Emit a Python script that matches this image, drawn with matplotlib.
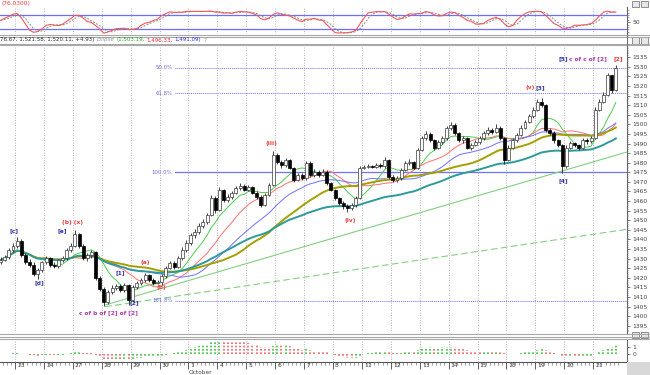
import numpy as np
import pandas as pd
import matplotlib
matplotlib.use("Agg")
import matplotlib.pyplot as plt
import matplotlib.transforms as mtransforms
from matplotlib.lines import Line2D
from matplotlib.patches import Rectangle

W, H = 650, 375

# hourly bars, 7 per day (first day only partly visible, last day 6 bars)
first_open = 1428.0
closes = [
    1429.3, 1430.8, 1434.5, 1436.6,                          # Sep 22
    1439.2, 1431.9, 1428.2, 1426.7, 1422.0, 1424.0, 1428.2,  # Sep 23
    1430.3, 1426.7, 1426.1, 1429.3, 1430.3, 1434.5, 1436.6,  # Sep 24
    1442.8, 1436.6, 1430.3, 1431.9, 1433.5, 1419.9, 1414.1,  # Sep 27
    1407.4, 1412.6, 1414.7, 1415.7, 1413.6, 1416.2, 1408.4,  # Sep 28
    1415.2, 1417.3, 1418.8, 1421.4, 1418.8, 1417.3, 1417.8,  # Sep 29
    1420.9, 1425.1, 1427.7, 1425.6, 1430.3, 1434.5, 1438.1,  # Sep 30
    1442.3, 1443.9, 1447.0, 1449.1, 1452.7, 1461.6, 1455.3,  # Oct 1
    1465.8, 1460.6, 1462.1, 1464.2, 1466.8, 1467.9, 1465.8,  # Oct 4
    1467.3, 1464.2, 1462.1, 1457.9, 1463.2, 1468.4, 1484.0,  # Oct 5
    1480.4, 1478.8, 1481.4, 1477.2, 1471.0, 1473.6, 1472.0,  # Oct 6
    1479.9, 1473.6, 1475.2, 1473.6, 1475.2, 1469.4, 1465.8,  # Oct 7
    1461.6, 1459.0, 1457.4, 1456.4, 1457.9, 1461.6, 1477.2,  # Oct 8
    1477.8, 1478.3, 1477.8, 1478.8, 1478.3, 1481.4, 1472.5,  # Oct 11
    1471.0, 1472.0, 1476.2, 1479.9, 1480.4, 1477.2, 1486.6,  # Oct 12
    1492.9, 1495.0, 1491.8, 1487.7, 1490.8, 1492.9, 1498.1,  # Oct 13
    1499.7, 1495.5, 1491.8, 1492.9, 1487.7, 1489.2, 1490.8,  # Oct 14
    1492.9, 1495.5, 1497.1, 1496.0, 1498.1, 1492.9, 1481.4,  # Oct 15
    1487.7, 1491.8, 1494.5, 1498.1, 1501.2, 1504.4, 1507.5,  # Oct 18
    1511.7, 1510.0, 1497.1, 1495.5, 1491.8, 1489.2, 1478.3,  # Oct 19
    1487.7, 1490.3, 1489.2, 1487.7, 1491.8, 1491.3, 1492.9,  # Oct 20
    1507.5, 1511.7, 1515.3, 1525.7, 1517.9, 1529.4,          # Oct 21
]
highs = [
    1431, 1432, 1435.5, 1438,
    1441.5, 1440, 1433, 1430, 1428, 1425, 1429,
    1431.5, 1431, 1428, 1430, 1431.5, 1435.5, 1438,
    1445, 1443.5, 1437.5, 1433, 1434.5, 1434, 1421,
    1415, 1413.5, 1416, 1417, 1416.5, 1417.5, 1417,
    1416, 1418.5, 1420, 1422.5, 1422, 1420, 1419,
    1422, 1426, 1429, 1428.5, 1431.5, 1436, 1439.5,
    1443.5, 1445.5, 1448.5, 1450.5, 1454, 1463, 1462.5,
    1467.5, 1466.5, 1463.5, 1465.5, 1468, 1469.5, 1469,
    1468.5, 1468, 1465, 1463, 1464, 1469.5, 1486,
    1485, 1481.5, 1482.5, 1482, 1478, 1474.5, 1474.5,
    1481, 1481, 1476.5, 1476, 1476.5, 1476, 1470,
    1466.5, 1462, 1460, 1458.5, 1459, 1462.5, 1478.5,
    1479, 1479.5, 1479, 1480, 1480, 1483, 1482,
    1473.5, 1473, 1477, 1481, 1482, 1481, 1487.5,
    1494, 1496.5, 1496, 1492.5, 1492, 1494, 1499,
    1501.5, 1500.5, 1496, 1494, 1493.5, 1490.5, 1492,
    1494, 1496.5, 1498.5, 1498, 1500, 1499, 1493.5,
    1489, 1493, 1495.5, 1499.5, 1502.5, 1505.5, 1509,
    1513, 1514, 1510.5, 1498, 1496.5, 1492.5, 1490,
    1489, 1491.5, 1491, 1490, 1493, 1493, 1494,
    1509, 1513, 1517, 1527, 1526, 1531,
]
lows = [
    1427, 1428.5, 1430, 1433.5,
    1435.5, 1431, 1427, 1425.5, 1421, 1419.5, 1423,
    1427, 1425.5, 1425, 1425, 1428, 1429.5, 1433.5,
    1436, 1435.5, 1429.5, 1429, 1430.5, 1419, 1413,
    1405.5, 1406.5, 1411.5, 1413.5, 1412.5, 1412.5, 1406,
    1407.5, 1414, 1416, 1418, 1418, 1416, 1416.5,
    1416, 1420, 1424.5, 1424.5, 1425, 1429.5, 1433.5,
    1437, 1441, 1443, 1446, 1448, 1452, 1454,
    1455, 1459.5, 1459.5, 1461, 1463.5, 1466, 1465,
    1465, 1463.5, 1461, 1457, 1457.5, 1462.5, 1468,
    1479.5, 1477.5, 1478, 1476.5, 1470, 1470.5, 1471,
    1471, 1472.5, 1472.5, 1472.5, 1473, 1468.5, 1465,
    1460.5, 1458, 1456, 1454.5, 1455.5, 1457, 1461,
    1476.5, 1477, 1477, 1477, 1477.5, 1477.5, 1471.5,
    1470, 1470, 1471, 1475.5, 1479, 1476.5, 1476.5,
    1486, 1492, 1491, 1486.5, 1487, 1490, 1492,
    1497, 1494.5, 1491, 1490.5, 1487, 1486.5, 1488.5,
    1490, 1492, 1494.5, 1495, 1495.5, 1492, 1479.5,
    1481, 1487, 1491, 1494, 1497.5, 1500.5, 1503.5,
    1507, 1509, 1496, 1494.5, 1490.5, 1488, 1474.5,
    1477.5, 1487, 1488, 1486.5, 1487, 1490, 1490.5,
    1492.5, 1507, 1511, 1515, 1516.5, 1517.5,
]

day_labels = ["23", "24", "27", "28", "29", "30", "1", "4", "5", "6", "7",
              "8", "11", "12", "13", "14", "15", "18", "19", "20", "21"]
bars_first_day = 4
bars_per_day = 7
month_label = "October"
month_day = "1"

# (period, colour, width, exponential?)
ma_specs = [(8, "#4ccc4c", 0.7, False), (15, "#ff7070", 0.7, False),
            (25, "#6f6fff", 0.7, False), (35, "#a3a000", 1.4, False),
            (60, "#2f9a9a", 1.4, True)]

fib_prices = [1529.5, 1516.3, 1475.0, 1408.0]
fib_names = ["50.0%", "61.8%", "100.0%", "161.8%"]
fib_styles = [":", ":", "-", ":"]
fib_start = 42.2

trend_x = [25.3, 151.7]
trend_solid = [1405.8, 1485.6]
trend_dashed = [1404.9, 1445.3]

BLUE, RED, MAG = "#3434a8", "#e83a3a", "#b03cb0"
wave_labels = [
    ("[c]", 3.3, 1444.4, BLUE), ("[d]", 9.3, 1417.3, BLUE),
    ("[e]", 14.9, 1444.4, BLUE), ("(b) (x)", 17.3, 1448.6, RED),
    ("[1]", 28.9, 1422.5, BLUE), ("(a)", 35.0, 1428.2, RED),
    ("[2]", 32.3, 1406.8, BLUE), ("(b)", 38.9, 1414.7, RED),
    ("c of b of [2] of [2]", 26.0, 1401.6, MAG),
    ("(iii)", 65.7, 1490.2, RED), ("(iv)", 84.6, 1450.1, RED),
    ("(v)", 128.2, 1519.0, RED), ("[3]", 130.8, 1519.0, BLUE),
    ("[4]", 136.2, 1470.5, BLUE), ("[5]", 136.2, 1534.1, BLUE),
    ("c of c of [2]", 142.2, 1534.1, MAG), ("[2]", 149.7, 1534.1, RED),
]

header_parts = [("76.67, 1,521.58, 1,520.11, +4.93)", "#333333", "normal"),
                ("Ellipse", "#9a9a9a", "italic"),
                ("(1,503.19,", "#2aa82a", "normal"),
                ("1,496.33,", "#e83030", "normal"),
                ("1,491.09)", "#3030e0", "normal"),
                ("?", "#9a9a9a", "normal")]

# ---- derived series
c = pd.Series(closes)
opens = [first_open] + closes[:-1]
n = len(closes)
xs = np.arange(n)

hh = pd.Series(highs).rolling(14, min_periods=1).max()
ll = pd.Series(lows).rolling(14, min_periods=1).min()
k_fast = 100 * (c - ll) / (hh - ll)
k_slow = k_fast.rolling(3, min_periods=1).mean()
d_slow = k_slow.rolling(3, min_periods=1).mean()

# percentage gap between a fast and a slow average
fast_avg = c.ewm(span=6).mean()
slow_avg = c.rolling(28, min_periods=1).mean()
osc = (fast_avg - slow_avg) / slow_avg * 100

day_edges = [bars_first_day - 0.5 + bars_per_day * k for k in range(len(day_labels))]
xlim = (-0.15, 151.7)


def px_axes(x0, y0, x1, y1):
    return fig.add_axes([x0 / W, 1 - y1 / H, (x1 - x0) / W, (y1 - y0) / H])


def fig_line(x0, y0, x1, y1, **kw):
    fig.add_artist(Line2D([x0 / W, x1 / W], [1 - y0 / H, 1 - y1 / H],
                          transform=fig.transFigure, **kw))


plt.rcParams["font.family"] = "DejaVu Sans"
fig = plt.figure(figsize=(6.5, 3.75), dpi=100)
fig.patch.set_facecolor("white")

ax_top = px_axes(0, 7, 627, 34)
ax = px_axes(0, 45, 627, 333)
ax_bot = px_axes(0, 339, 627, 362)

for a in (ax_top, ax, ax_bot):
    a.set_xlim(*xlim)
    a.set_xticks(day_edges)
    a.grid(axis="x", linestyle=(0, (1, 2)), color="#9a9a9a", lw=0.6)
    a.yaxis.tick_right()
    for s in ("left", "top", "bottom"):
        a.spines[s].set_visible(False)
    a.spines["right"].set_color("#666666")
    a.spines["right"].set_linewidth(0.8)
    a.tick_params(axis="y", labelsize=4.3, length=2, width=0.5, pad=2,
                  colors="#444444")
    a.set_facecolor("white")
for a in (ax_top, ax):
    a.tick_params(axis="x", length=0, labelbottom=False)

# ---- stochastic panel
ax_top.set_ylim(0, 114)
ax_top.axhline(80, color="#6e6eff", lw=0.9)
ax_top.axhline(20, color="#6e6eff", lw=0.9)
ax_top.plot(xs, d_slow, color="#8a8a8a", lw=0.7, ls=(0, (2, 1.5)))
ax_top.plot(xs, k_slow, color="#f05a5a", lw=0.8)
ax_top.set_yticks([50])
ax_top.set_yticks(np.arange(10, 110, 10), minor=True)
ax_top.tick_params(axis="y", which="minor", length=1.2, width=0.4, colors="#666666")

# ---- price panel
ax.set_ylim(1391.2, 1541.4)
ax.set_yticks(np.arange(1395, 1540, 5))
ax.set_yticks(np.arange(1392, 1541, 1), minor=True)
ax.tick_params(axis="y", which="minor", length=1, width=0.4, colors="#666666")

for p, name, ls in zip(fib_prices, fib_names, fib_styles):
    ax.plot([fib_start, xlim[1]], [p, p], color="#7070ff", lw=0.9 if ls == "-" else 0.7,
            ls=ls if ls == "-" else (0, (1, 1)), zorder=2)
    ax.text(fib_start - 0.6, p, name, color="#6a6ad8", fontsize=3.9,
            ha="right", va="center", zorder=4)

ax.plot(trend_x, trend_solid, color="#80d080", lw=0.8, zorder=2)
ax.plot(trend_x, trend_dashed, color="#80d080", lw=0.8, ls=(0, (6, 3)), zorder=2)

for period, col, lw, expo in ma_specs:
    ma = c.ewm(span=period).mean() if expo else c.rolling(period, min_periods=1).mean()
    ax.plot(xs, ma, color=col, lw=lw, zorder=2)

o_arr, c_arr = np.array(opens), np.array(closes)
up = c_arr >= o_arr
body_lo = np.minimum(o_arr, c_arr)
body_h = np.maximum(np.abs(c_arr - o_arr), 0.3)
ax.vlines(xs, lows, highs, color="#222222", lw=0.6, zorder=3)
ax.bar(xs[up], body_h[up], 0.72, bottom=body_lo[up], facecolor="white",
       edgecolor="#3a3a3a", linewidth=0.5, zorder=4)
ax.bar(xs[~up], body_h[~up], 0.72, bottom=body_lo[~up], facecolor="black",
       edgecolor="black", linewidth=0.5, zorder=4)

for txt, x, p, col in wave_labels:
    ax.text(x, p, txt, color=col, fontsize=4.2, ha="center", va="center",
            fontweight="bold", zorder=5)

# ---- oscillator panel
ax_bot.set_ylim(-1.14, 2.14)
rising = np.r_[True, np.diff(osc.values) >= 0]
ax_bot.vlines(xs[rising], 0, osc.values[rising], color="#3cc03c", lw=1.2,
              linestyles=(0, (1, 1)))
ax_bot.vlines(xs[~rising], 0, osc.values[~rising], color="#f06060", lw=1.2,
              linestyles=(0, (1, 1)))
ax_bot.set_yticks([0, 1])
ax_bot.spines["bottom"].set_visible(True)
ax_bot.spines["bottom"].set_color("#555555")
ax_bot.spines["bottom"].set_linewidth(0.8)
ax_bot.set_xticks(xs + 0.5, minor=True)
ax_bot.set_xticklabels(day_labels)
ax_bot.tick_params(axis="x", which="major", labelsize=4.3, length=5, width=0.6,
                   pad=-4.2, colors="#444444")
ax_bot.tick_params(axis="x", which="minor", length=1.8, width=0.4, colors="#555555")
shift = mtransforms.ScaledTranslation(1.5 / 72, 0, fig.dpi_scale_trans)
for lab in ax_bot.get_xticklabels():
    lab.set_horizontalalignment("left")
    lab.set_transform(lab.get_transform() + shift)
ax_bot.text(day_edges[day_labels.index(month_day)], -0.46, month_label,
            transform=ax_bot.get_xaxis_transform(), fontsize=4.2, color="#444444",
            ha="left", va="center")

# ---- separators, headers, icons
for y in (34.5, 36.5, 43.5, 45.0, 333.5, 336.5, 338.5):
    fig_line(0, y, 650, y, color="#a8a8a8", lw=0.8)
fig_line(627, 34.5, 627, 45, color="#777777", lw=0.8)

fig.text(2 / W, 1 - 3.5 / H, "(76.0300)", color=RED, fontsize=4.2, va="center")
renderer = fig.canvas.get_renderer()
hx = 0.0
for s, col, st in header_parts:
    t = fig.text(hx / W, 1 - 40 / H, s, color=col, fontsize=4.0, style=st,
                 va="center")
    hx += t.get_window_extent(renderer).width + 2

for yy in (1, 37.5, 332.0):
    for xx in (632, 641):
        fig.add_artist(Rectangle((xx / W, 1 - (yy + 6) / H), 7 / W, 6 / H,
                                 transform=fig.transFigure, facecolor="#e8e8e8",
                                 edgecolor="#666666", lw=0.5))
fig.add_artist(Rectangle((627 / W, 0), 23 / W, 13 / H, transform=fig.transFigure,
                         facecolor="#d8d8d8", edgecolor="none", hatch="....",
                         lw=0))

fig.savefig("out.png", dpi=100, facecolor="white")
